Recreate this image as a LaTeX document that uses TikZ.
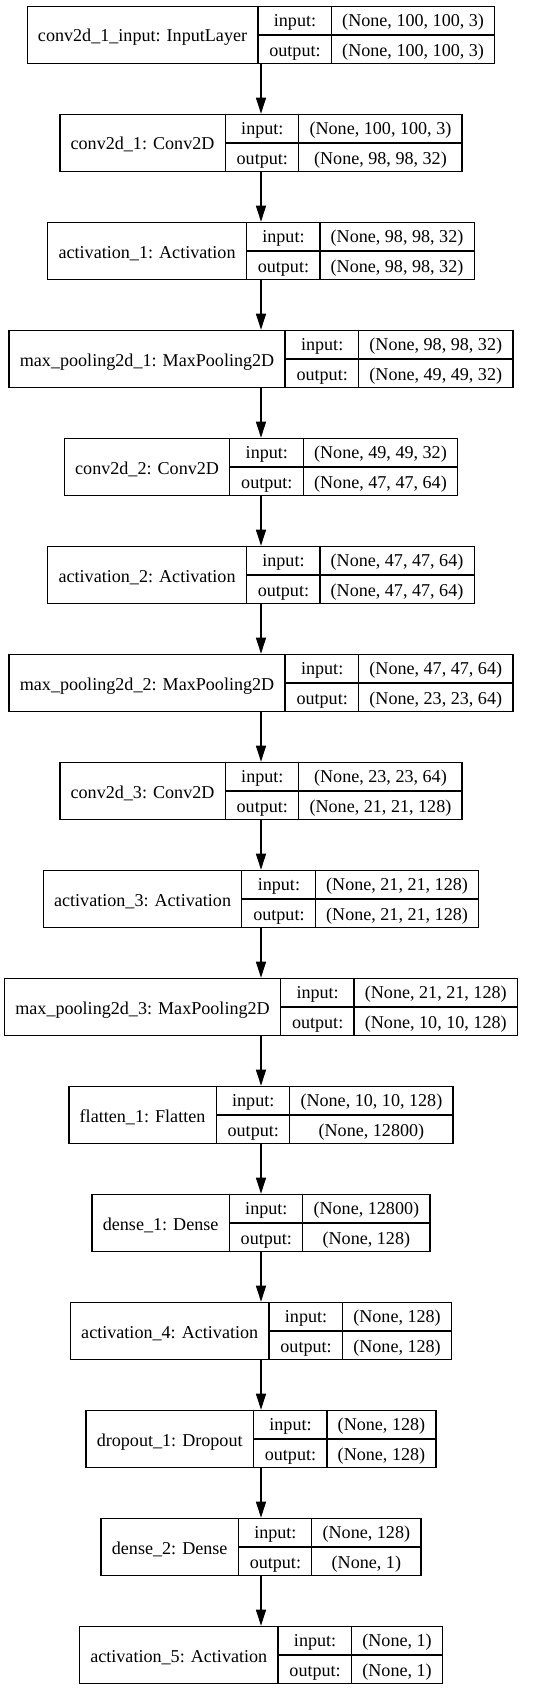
\documentclass[tikz,border=0pt]{standalone}
\usepackage{fontspec}
\setmainfont{Liberation Serif}
\usepackage{tikz}
\usetikzlibrary{arrows.meta,positioning}
\setlength{\arrayrulewidth}{0.65pt}
\setlength{\tabcolsep}{5.4pt}
\newcommand{\rowstrut}{\rule[-3.75pt]{0pt}{14pt}}
% one layer: name | input/output | shapes
\newcommand{\layertab}[3]{%
  \begin{tabular}{c|@{}c@{}}
    \raisebox{-1.25pt}{#1} &
    \begin{tabular}{c|c}
      \rowstrut input: & #2 \\ \hline
      \rowstrut output: & #3
    \end{tabular}
  \end{tabular}}
\tikzset{
    %Define standard arrow tip
    >={Triangle[length=8pt,width=5pt]},
    %Define style for layer boxes
    layer/.style={
           rectangle,
           draw=black, line width=0.65pt,
           inner sep=0pt,
           font=\fontsize{9.05pt}{11pt}\selectfont},
    % Define arrow style
    pil/.style={
           ->,
           line width=0.65pt}
}
\begin{document}
\begin{tikzpicture}[node distance=24.7pt]
 \useasboundingbox (0,0) rectangle (267.5pt,-845.5pt);

 \node[layer, anchor=north] (input) at (130.5pt,-2.85pt)
   {\layertab{conv2d\_1\_input: InputLayer}{(None, 100, 100, 3)}{(None, 100, 100, 3)}};
 \node[layer, below=of input] (conv1)
   {\layertab{conv2d\_1: Conv2D}{(None, 100, 100, 3)}{(None, 98, 98, 32)}}
   edge[pil,<-] (input);
 \node[layer, below=of conv1] (act1)
   {\layertab{activation\_1: Activation}{(None, 98, 98, 32)}{(None, 98, 98, 32)}}
   edge[pil,<-] (conv1);
 \node[layer, below=of act1] (pool1)
   {\layertab{max\_pooling2d\_1: MaxPooling2D}{(None, 98, 98, 32)}{(None, 49, 49, 32)}}
   edge[pil,<-] (act1);
 \node[layer, below=of pool1] (conv2)
   {\layertab{conv2d\_2: Conv2D}{(None, 49, 49, 32)}{(None, 47, 47, 64)}}
   edge[pil,<-] (pool1);
 \node[layer, below=of conv2] (act2)
   {\layertab{activation\_2: Activation}{(None, 47, 47, 64)}{(None, 47, 47, 64)}}
   edge[pil,<-] (conv2);
 \node[layer, below=of act2] (pool2)
   {\layertab{max\_pooling2d\_2: MaxPooling2D}{(None, 47, 47, 64)}{(None, 23, 23, 64)}}
   edge[pil,<-] (act2);
 \node[layer, below=of pool2] (conv3)
   {\layertab{conv2d\_3: Conv2D}{(None, 23, 23, 64)}{(None, 21, 21, 128)}}
   edge[pil,<-] (pool2);
 \node[layer, below=of conv3] (act3)
   {\layertab{activation\_3: Activation}{(None, 21, 21, 128)}{(None, 21, 21, 128)}}
   edge[pil,<-] (conv3);
 \node[layer, below=of act3] (pool3)
   {\layertab{max\_pooling2d\_3: MaxPooling2D}{(None, 21, 21, 128)}{(None, 10, 10, 128)}}
   edge[pil,<-] (act3);
 \node[layer, below=of pool3] (flat)
   {\layertab{flatten\_1: Flatten}{(None, 10, 10, 128)}{(None, 12800)}}
   edge[pil,<-] (pool3);
 \node[layer, below=of flat] (dense1)
   {\layertab{dense\_1: Dense}{(None, 12800)}{(None, 128)}}
   edge[pil,<-] (flat);
 \node[layer, below=of dense1] (act4)
   {\layertab{activation\_4: Activation}{(None, 128)}{(None, 128)}}
   edge[pil,<-] (dense1);
 \node[layer, below=of act4] (drop)
   {\layertab{dropout\_1: Dropout}{(None, 128)}{(None, 128)}}
   edge[pil,<-] (act4);
 \node[layer, below=of drop] (dense2)
   {\layertab{dense\_2: Dense}{(None, 128)}{(None, 1)}}
   edge[pil,<-] (drop);
 \node[layer, below=of dense2] (act5)
   {\layertab{activation\_5: Activation}{(None, 1)}{(None, 1)}}
   edge[pil,<-] (dense2);
\end{tikzpicture}
\end{document}
